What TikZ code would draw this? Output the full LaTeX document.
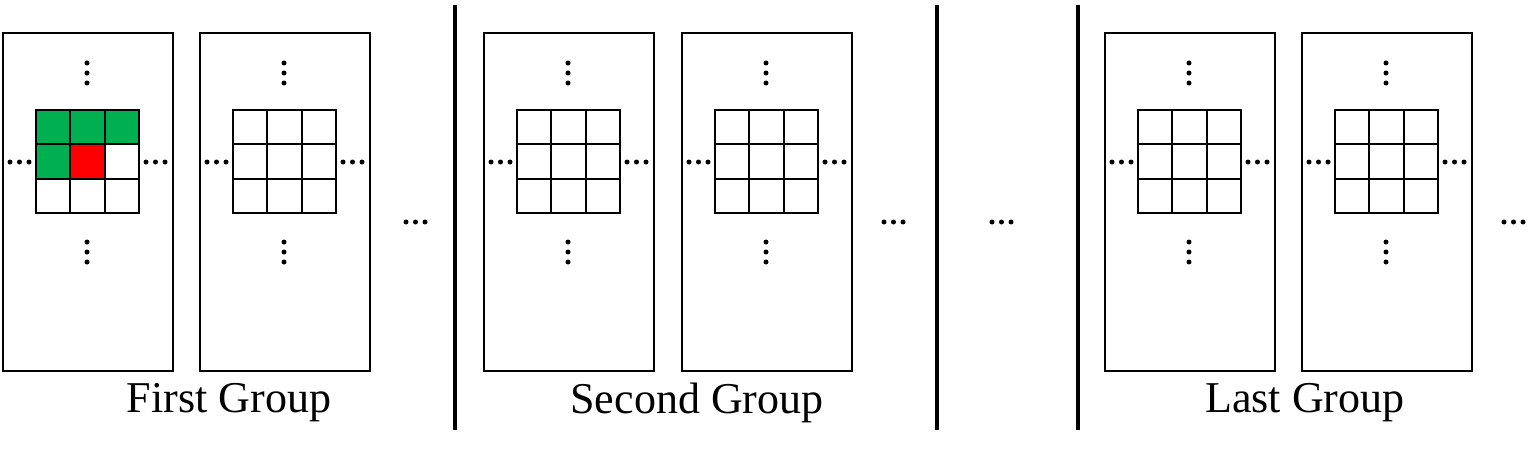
\documentclass[tikz,border=0pt]{standalone}
\usepackage{fontspec}
\setmainfont{Liberation Serif}
\definecolor{gg}{RGB}{0,176,80}
\begin{document}
\begin{tikzpicture}[x=1pt,y=-1pt,
  panel/.style={draw,line width=2.2pt},
  cell/.style={draw,line width=2.2pt},
  sep/.style={line width=4pt},
  lab/.style={font=\fontsize{44}{50}\selectfont,inner sep=0},
  dot/.style={fill,circle,inner sep=0,minimum size=5pt}]
\useasboundingbox (0,0) rectangle (1528,452);
\newcommand\panel[2]{%
  \draw[panel] (#1,33) rectangle ++(170,338);
  \foreach \i in {0,1,2}{\foreach \j in {0,1,2}{
    \draw[cell] ({#1+33+\i*34.3},{110+\j*34.3}) rectangle ++(34.3,34.3);}}
  \foreach \k in {0,1,2}{
    \node[dot] (v#2a\k) at ({#1+84},{63+\k*10}) {};
    \node[dot] (v#2b\k) at ({#1+84},{242+\k*10}) {};
    \node[dot] (h#2a\k) at ({#1+7+\k*9.5},162) {};
    \node[dot] (h#2b\k) at ({#1+143+\k*9.5},162) {};}}
% first panel with colors
\fill[gg] (36,110) rectangle ++(102.9,34.3);
\fill[gg] (36,144.3) rectangle ++(34.3,34.3);
\fill[red] (70.3,144.3) rectangle ++(34.3,34.3);
\panel{3}{p1}
\panel{200}{p2}
\panel{484}{p3}
\panel{682}{p4}
\panel{1105}{p5}
\panel{1302}{p6}
\draw[sep] (455,5) coordinate (s1a) -- (455,430) coordinate (s1b);
\draw[sep] (937,5) coordinate (s2a) -- (937,430) coordinate (s2b);
\draw[sep] (1078,5) coordinate (s3a) -- (1078,430) coordinate (s3b);
\foreach \x/\n in {406/a,884/b,992/c,1504/d}{
  \foreach \k in {0,1,2}{\node[dot] (g\n\k) at ({\x+\k*9.5},222) {};}}
\node[lab] (t1) at (229,403) {First Group};
\node[lab] (t2) at (697,403) {Second Group};
\node[lab] (t3) at (1305,403) {Last Group};
\end{tikzpicture}
\end{document}
